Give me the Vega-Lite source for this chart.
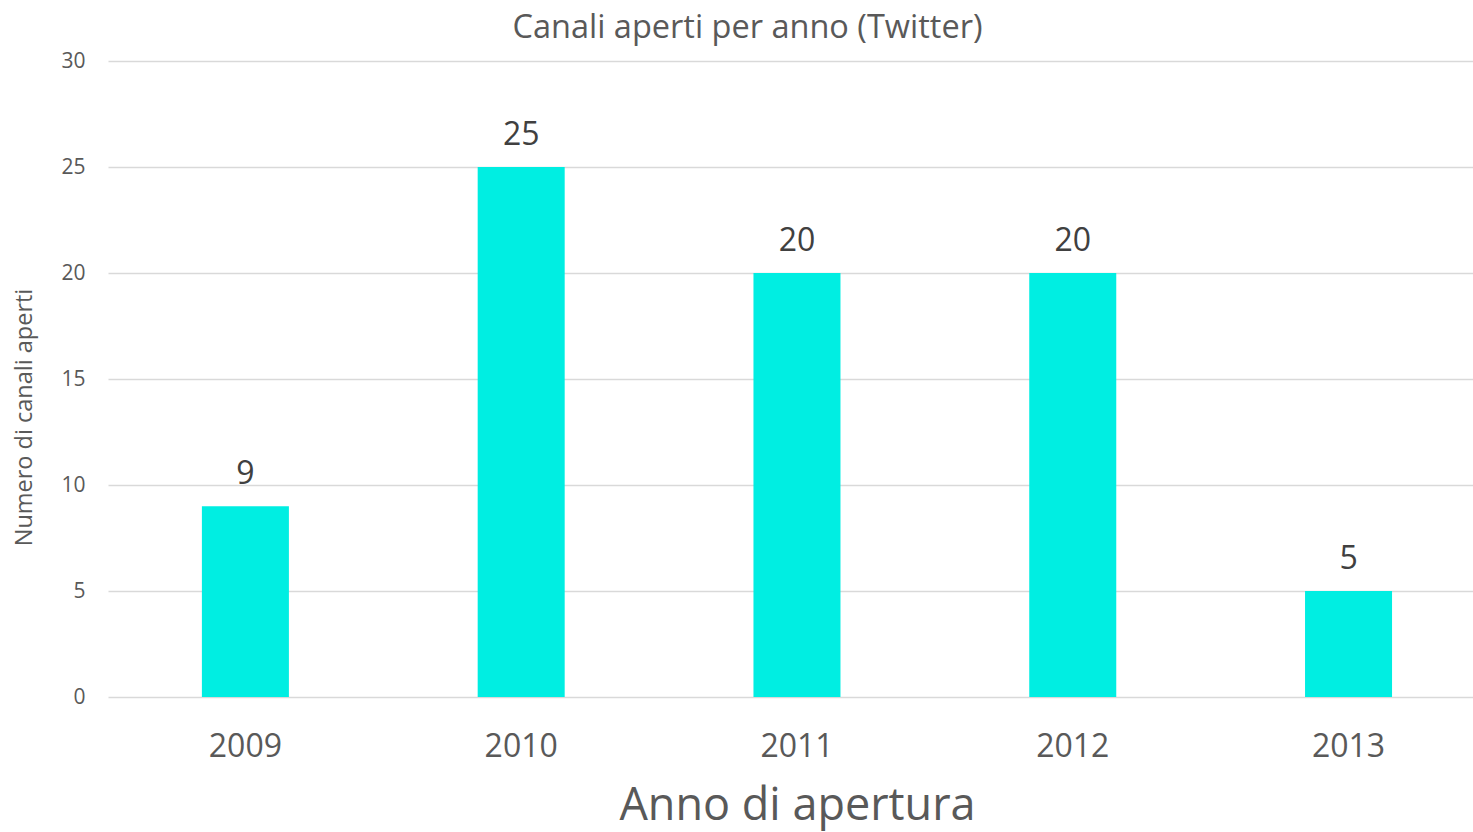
{
  "$schema": "https://vega.github.io/schema/vega-lite/v6.json",
  "autosize": "none",
  "padding": {"left": 108, "top": 61, "right": 0, "bottom": 135},
  "width": 1365,
  "height": 636,
  "background": "white",
  "config": {
    "view": {"stroke": null},
    "font": "Open Sans"
  },
  "title": {
    "text": "Canali aperti per anno (Twitter)",
    "fontSize": 32.5,
    "fontWeight": "normal",
    "color": "#595959",
    "anchor": "middle",
    "frame": "group",
    "dx": -43,
    "offset": 6
  },
  "data": {
    "values": [
      {"anno": "2009", "canali": 9},
      {"anno": "2010", "canali": 25},
      {"anno": "2011", "canali": 20},
      {"anno": "2012", "canali": 20},
      {"anno": "2013", "canali": 5}
    ]
  },
  "encoding": {
    "x": {
      "field": "anno",
      "type": "nominal",
      "sort": null,
      "scale": {"paddingInner": 0.6845, "paddingOuter": 0.317, "align": 0.537},
      "axis": {
        "title": "Anno di apertura",
        "titleFontSize": 45,
        "titleFontWeight": "normal",
        "titleColor": "#595959",
        "titleBaseline": "alphabetic",
        "titleY": 122,
        "titleX": 689,
        "labelAngle": 0,
        "labelFontSize": 32,
        "labelColor": "#595959",
        "labelBaseline": "alphabetic",
        "labelPadding": 59,
        "ticks": false,
        "domain": false
      }
    },
    "y": {
      "field": "canali",
      "type": "quantitative",
      "scale": {"domain": [0, 30]},
      "axis": {
        "values": [0, 5, 10, 15, 20, 25, 30],
        "title": "Numero di canali aperti",
        "titleFontSize": 23.5,
        "titleFontWeight": "normal",
        "titleColor": "#595959",
        "titleX": -84,
        "titleY": 356,
        "titleBaseline": "middle",
        "titleAnchor": "middle",
        "labelFontSize": 21,
        "labelColor": "#595959",
        "labelPadding": 23,
        "ticks": false,
        "domain": false,
        "gridColor": "#d9d9d9",
        "gridWidth": 1.5
      }
    }
  },
  "layer": [
    {
      "mark": {"type": "bar", "color": "#00EEE2"}
    },
    {
      "mark": {"type": "text", "baseline": "alphabetic", "dy": -22, "fontSize": 32, "color": "#404040"},
      "encoding": {"text": {"field": "canali", "type": "quantitative"}}
    }
  ]
}
